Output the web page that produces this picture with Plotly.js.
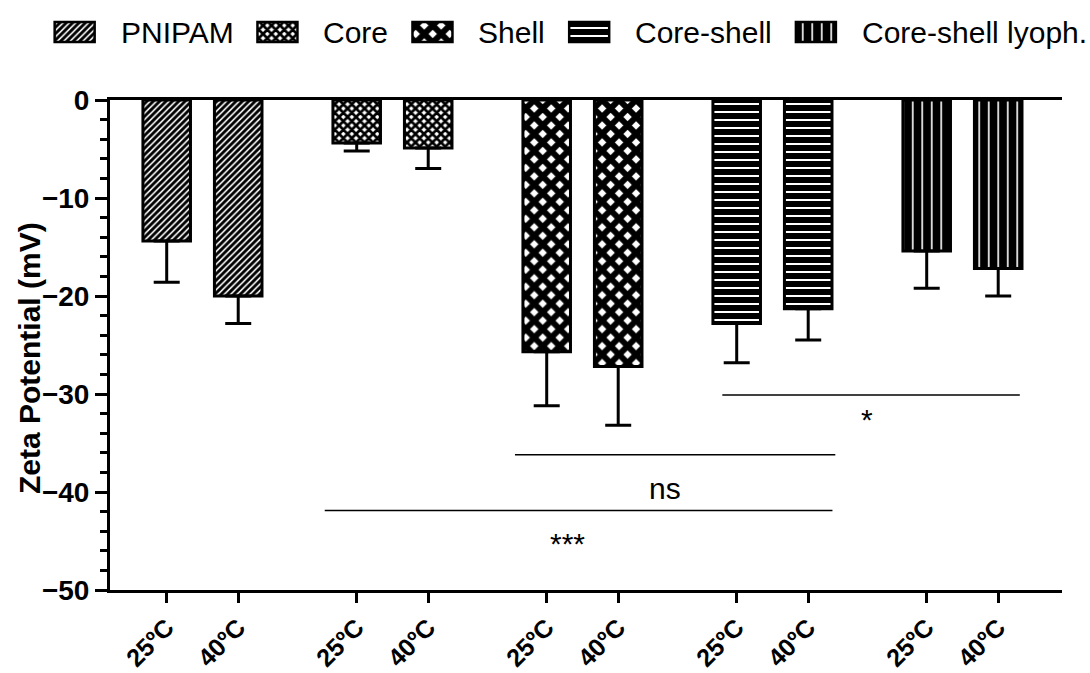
<!DOCTYPE html>
<html>
<head>
<meta charset="utf-8">
<script src="https://cdn.plot.ly/plotly-3.0.1.min.js"></script>
<style>
  html, body { margin: 0; padding: 0; background: #ffffff; }
  #chart { width: 1090px; height: 673px; }
</style>
</head>
<body>
<div id="chart"></div>
<script>
// ---- data ---------------------------------------------------------------
const groups = ['PNIPAM', 'Core', 'Shell', 'Core-shell', 'Core-shell lyoph.'];
const temps = ['25ºC', '40ºC'];

const pnipam         = [-14.4, -20.0];
const core           = [-4.4, -4.9];
const shell          = [-25.7, -27.2];
const coreShell      = [-22.8, -21.3];
const coreShellLyoph = [-15.4, -17.2];

const pnipamErr         = [4.2, 2.8];
const coreErr           = [0.8, 2.1];
const shellErr          = [5.5, 6.0];
const coreShellErr      = [4.0, 3.2];
const coreShellLyophErr = [3.8, 2.8];

// statistical comparisons (bracket level and span, in axis units)
const sigLabels = ['*', 'ns', '***'];
const sigLevels = [-30.1, -36.2, -41.9];
const sigStart  = [7.77, 4.87, 2.21];
const sigEnd    = [11.93, 9.35, 9.31];
const sigLabelX = [9.79, 6.97, 5.6];
const sigLabelY = [-32.6, -39.6, -45.3];

// ---- styling ------------------------------------------------------------
const seriesValues = [pnipam, core, shell, coreShell, coreShellLyoph];
const seriesErrors = [pnipamErr, coreErr, shellErr, coreShellErr, coreShellLyophErr];
const patterns = [
  { shape: '/', bgcolor: '#ffffff', fgcolor: '#000000', size: 4.5, solidity: 0.65 },
  { shape: 'x', bgcolor: '#ffffff', fgcolor: '#000000', size: 6,   solidity: 0.7 },
  { shape: 'x', bgcolor: '#ffffff', fgcolor: '#000000', size: 12,  solidity: 0.75 },
  { shape: '-', bgcolor: '#000000', fgcolor: '#ffffff', size: 8,   solidity: 0.25 },
  { shape: '|', bgcolor: '#000000', fgcolor: '#ffffff', size: 9.5, solidity: 0.17 }
];

const W = 1090, H = 673;
const MARGIN_B = 83;
const PLOT_H = H - MARGIN_B;           // plotting area spans the full width, top to x axis
const AXIS_LEFT = 110, AXIS_RIGHT = 1062, AXIS_TOP = 100;
const GROUP_STEP = 2.657;              // distance between the first bars of neighbouring groups
const BAR_WIDTH = 0.665;
const FONT = 'Arial, "Liberation Sans", sans-serif';

const xPos = (g, t) => g * GROUP_STEP + t;

const traces = [];
const tickVals = [], tickText = [];

groups.forEach((name, g) => {
  const xs = temps.map((_, t) => xPos(g, t));
  xs.forEach((x, t) => { tickVals.push(x); tickText.push(temps[t]); });
  traces.push({
    type: 'bar',
    name: name,
    x: xs,
    y: seriesValues[g],
    width: BAR_WIDTH,
    marker: {
      color: patterns[g].bgcolor,
      line: { color: '#000000', width: 3 },
      pattern: patterns[g]
    },
    error_y: {
      type: 'data',
      symmetric: false,
      array: seriesValues[g].map(() => 0),
      arrayminus: seriesErrors[g],
      color: '#000000',
      thickness: 3,
      width: 13
    },
    showlegend: false,
    hoverinfo: 'skip'
  });
});

// ---- key across the top: patterned swatches drawn as bars on a pixel-scaled axis pair ----
const KEY_Y = 32, SWATCH_W = 40, SWATCH_H = 20;
const GAP_TEXT = 24, GAP_ITEM = 26, KEY_FONT = 30, KEY_RIGHT = 1085;
const ctx = document.createElement('canvas').getContext('2d');
ctx.font = KEY_FONT + 'px "Liberation Sans", Arial';
const textW = groups.map(s => ctx.measureText(s).width);
const keyTotal = groups.length * (SWATCH_W + GAP_TEXT) + (groups.length - 1) * GAP_ITEM +
                 textW.reduce((a, b) => a + b, 0);
let cursor = KEY_RIGHT - keyTotal;

const annotations = [];
groups.forEach((name, g) => {
  traces.push({
    type: 'bar',
    orientation: 'h',
    xaxis: 'x2', yaxis: 'y2',
    base: [cursor],
    x: [SWATCH_W],
    y: [KEY_Y],
    width: SWATCH_H,
    marker: {
      color: patterns[g].bgcolor,
      line: { color: '#000000', width: 2.5 },
      pattern: patterns[g]
    },
    showlegend: false,
    hoverinfo: 'skip'
  });
  cursor += SWATCH_W + GAP_TEXT;
  annotations.push({
    xref: 'x2', yref: 'y2', x: cursor, y: KEY_Y,
    xanchor: 'left', yanchor: 'middle', showarrow: false,
    text: name,
    font: { family: FONT, size: KEY_FONT, color: '#000000' }
  });
  cursor += textW[g] + GAP_ITEM;
});

// y axis title
annotations.push({
  xref: 'x2', yref: 'paper', x: 29, y: (PLOT_H - 358) / PLOT_H,
  xanchor: 'center', yanchor: 'middle', showarrow: false, textangle: -90,
  text: 'Zeta Potential (mV)',
  font: { family: FONT, size: 30, weight: 'bold', color: '#000000' }
});

// significance brackets
const shapes = [];
sigLabels.forEach((lab, i) => {
  shapes.push({
    type: 'line', xref: 'x', yref: 'y',
    x0: sigStart[i], x1: sigEnd[i], y0: sigLevels[i], y1: sigLevels[i],
    line: { color: '#000000', width: 1.5 }
  });
  annotations.push({
    xref: 'x', yref: 'y', x: sigLabelX[i], y: sigLabelY[i],
    xanchor: 'center', yanchor: 'middle', showarrow: false,
    text: lab,
    font: { family: FONT, size: 30, color: '#000000' }
  });
});

const layout = {
  width: W, height: H,
  margin: { l: 0, r: 0, t: 0, b: MARGIN_B, pad: 0 },
  paper_bgcolor: '#ffffff',
  plot_bgcolor: 'rgba(0,0,0,0)',
  barmode: 'overlay',
  showlegend: false,
  xaxis: {
    domain: [AXIS_LEFT / W, AXIS_RIGHT / W],
    range: [-0.793, 12.52],
    autorange: false,
    tickmode: 'array',
    tickvals: tickVals,
    ticktext: tickText,
    tickangle: -45,
    ticks: 'outside', ticklen: 10, tickwidth: 3, tickcolor: '#000000',
    showline: true, linewidth: 3, linecolor: '#000000', mirror: true,
    showgrid: false, zeroline: false,
    tickfont: { family: FONT, size: 25, weight: 'bold', color: '#000000' },
    fixedrange: true
  },
  yaxis: {
    domain: [0, (PLOT_H - AXIS_TOP) / PLOT_H],
    range: [-50, 0],
    autorange: false,
    tickmode: 'linear', tick0: 0, dtick: 10,
    ticks: 'outside', ticklen: 12, tickwidth: 3, tickcolor: '#000000',
    minor: { dtick: 2, ticks: 'outside', ticklen: 7, tickwidth: 3, tickcolor: '#000000', showgrid: false },
    showline: true, linewidth: 3, linecolor: '#000000',
    showgrid: false, zeroline: false,
    tickfont: { family: FONT, size: 28, weight: 'bold', color: '#000000' },
    fixedrange: true
  },
  xaxis2: {
    domain: [0, 1], range: [0, W], autorange: false, anchor: 'y2',
    visible: false, fixedrange: true
  },
  yaxis2: {
    domain: [0.85, 1], range: [0.15 * PLOT_H, 0], autorange: false, anchor: 'x2',
    visible: false, fixedrange: true
  },
  shapes: shapes,
  annotations: annotations
};

Plotly.newPlot('chart', traces, layout, { staticPlot: true, displayModeBar: false });
</script>
</body>
</html>
